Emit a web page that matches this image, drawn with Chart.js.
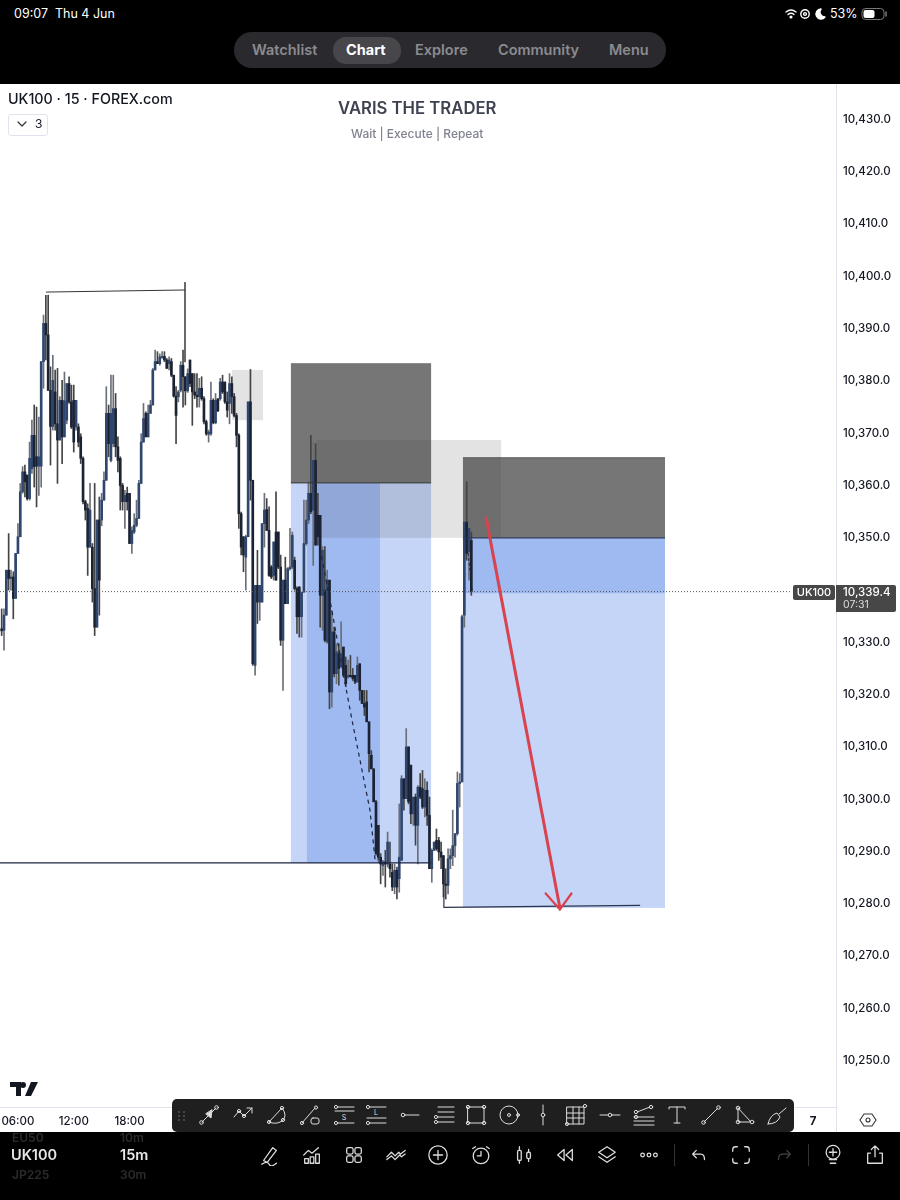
<!DOCTYPE html>
<html>
<head>
<meta charset="utf-8">
<title>UK100 15m</title>
<script src="https://cdn.jsdelivr.net/npm/chart.js@4"></script>
<style>
  html, body { margin: 0; padding: 0; background: #000; }
  body { width: 900px; height: 1200px; position: relative; overflow: hidden; font-family: Inter, "Noto Sans", sans-serif; }
  #chartBox { position: absolute; left: 0; top: 84px; width: 900px; height: 1048px; background: #fff; }
  .t { position: absolute; white-space: nowrap; line-height: 1; }
  .nav { color: #8b8b90; font-size: 14.5px; font-weight: 600; top: 43px; }
  .sep { position: absolute; width: 1px; background: #333; }
  svg.i { position: absolute; fill: none; stroke-linecap: round; stroke-linejoin: round; }
</style>
</head>
<body>
<div id="chartBox"><canvas id="priceChart" width="900" height="1048"></canvas></div>

<div class="t" style="left:14px;top:8px;color:#fff;font-size:12.5px;">09:07&nbsp;&nbsp;Thu 4 Jun</div>
<div class="t" style="left:830px;top:8px;color:#fff;font-size:12.5px;">53%</div>
<svg class="i" style="left:783px;top:7px" width="46" height="14" viewBox="0 0 46 14" stroke="#fff" stroke-width="1.4">
  <path d="M3 5 Q8 1 13 5 M5 7.5 Q8 5 11 7.5"/><circle cx="8" cy="10" r="0.9" fill="#fff"/>
  <circle cx="22" cy="7" r="4.2"/><circle cx="22" cy="7" r="1.4"/>
  <path d="M38 2 A5 5 0 1 0 42 10 A5 5 0 0 1 38 2" fill="#fff"/>
</svg>
<svg class="i" style="left:861px;top:7px" width="28" height="14" viewBox="0 0 28 14">
  <rect x="1" y="1.5" width="22" height="11" rx="3.5" stroke="#777"/><rect x="2.5" y="3" width="11" height="8" rx="2" fill="#fff"/>
  <path d="M25 5v4" stroke="#777" stroke-width="1.5"/>
</svg>

<div style="position:absolute;left:234px;top:32px;width:432px;height:36px;border-radius:18px;background:#2a2a2e;"></div>
<div style="position:absolute;left:333px;top:37px;width:68px;height:27px;border-radius:13px;background:#46464b;"></div>
<div class="t nav" style="left:252px;">Watchlist</div>
<div class="t nav" style="left:346px;color:#fff;font-weight:700;">Chart</div>
<div class="t nav" style="left:415px;">Explore</div>
<div class="t nav" style="left:498px;">Community</div>
<div class="t nav" style="left:609px;">Menu</div>

<div class="t" style="left:8px;top:92px;color:#131722;font-size:14.3px;font-weight:500;">UK100 · 15 · FOREX.com</div>
<div style="position:absolute;left:8px;top:114px;width:38px;height:20px;border:1px solid #e0e3eb;border-radius:3px;background:#fff;"></div>
<svg class="i" style="left:16px;top:120px" width="12" height="9" viewBox="0 0 12 9" stroke="#333" stroke-width="1.2"><path d="M2 2l4 4 4-4"/></svg>
<div class="t" style="left:35px;top:118px;color:#131722;font-size:12px;">3</div>
<div class="t" style="left:338px;top:100px;color:#3e4150;font-size:16.7px;font-weight:600;">VARIS THE TRADER</div>
<div class="t" style="left:351px;top:128px;color:#80838f;font-size:12px;font-weight:500;">Wait | Execute | Repeat</div>

<div class="t" style="left:793px;top:585px;width:42px;height:15px;line-height:15px;text-align:center;background:#474747;border-radius:2px;color:#fff;font-size:11px;font-weight:500;">UK100</div>
<div style="position:absolute;left:836px;top:585px;width:60px;height:27px;background:#474747;border-radius:0 2px 2px 0;"></div>
<div class="t" style="left:843px;top:587px;color:#fff;font-size:11.5px;font-weight:500;">10,339.4</div>
<div class="t" style="left:843px;top:600px;color:#ddd;font-size:10.5px;">07:31</div>

<svg class="i" style="left:10px;top:1082px" width="28" height="14" viewBox="0 0 28 14"><path d="M0 0h11v14h-5v-9h-6zM21 0h7l-7 14h-6zM13 0a3 3 0 1 1 0 6 3 3 0 0 1 0-6" fill="#131722"/></svg>
<div style="position:absolute;left:836px;top:1107px;width:1px;height:25px;background:#e0e3eb;"></div>
<svg class="i" style="left:859px;top:1112px" width="18" height="16" viewBox="0 0 18 16" stroke="#333" stroke-width="1.1"><path d="M5 2h8l4 6-4 6H5L1 8z"/><circle cx="9" cy="8" r="2"/></svg>

<div id="drawTools" style="position:absolute;left:172px;top:1099px;width:622px;height:33px;background:#1f1f1f;border-radius:5px;"></div>
<div id="bottomIcons" style="position:absolute;left:0;top:1132px;width:900px;height:68px;"></div>

<div class="t" style="left:12px;top:1132px;color:#2c2c2c;font-size:12px;font-weight:600;">EU50</div>
<div class="t" style="left:120px;top:1132px;color:#2c2c2c;font-size:12px;font-weight:600;">10m</div>
<div class="t" style="left:11px;top:1148px;color:#e8e8e8;font-size:14.5px;font-weight:600;">UK100</div>
<div class="t" style="left:120px;top:1148px;color:#e8e8e8;font-size:14.5px;font-weight:600;">15m</div>
<div class="t" style="left:12px;top:1169px;color:#2c2c2c;font-size:12px;font-weight:600;">JP225</div>
<div class="t" style="left:120px;top:1169px;color:#2c2c2c;font-size:12px;font-weight:600;">30m</div>

<script>
// prices, 15m candles left to right
const opens = [
  10332.3,10332.0,10334.9,10343.5,10341.9,10342.2,10338.1,10346.7,10349.9,10358.5,
  10362.3,10361.7,10357.2,10362.9,10369.3,10365.2,10363.4,10363.4,10383.4,10390.7,
  10388.5,10377.9,10371.0,10377.6,10371.5,10368.4,10376.0,10369.0,10372.2,10379.2,
  10375.7,10376.0,10370.9,10370.9,10369.0,10364.9,10356.6,10355.3,10347.9,10347.9,
  10340.0,10332.6,10353.1,10353.1,10356.9,10360.7,10373.5,10364.5,10367.7,10374.4,
  10367.1,10364.9,10359.7,10356.6,10358.2,10358.2,10348.6,10350.8,10352.1,10353.4,
  10360.1,10368.0,10373.5,10369.0,10373.5,10375.1,10381.8,10383.4,10383.0,10384.2,
  10384.4,10383.7,10383.0,10383.4,10380.8,10376.8,10376.7,10377.9,10382.7,10380.5,
  10377.8,10383.7,10381.1,10377.6,10377.0,10376.7,10378.3,10376.3,10371.9,10369.5,
  10369.6,10376.0,10371.7,10376.3,10376.3,10379.5,10379.5,10375.7,10375.4,10379.2,
  10376.7,10373.1,10369.3,10354.3,10349.9,10346.0,10349.9,10375.7,10360.7,10325.3,
  10340.6,10337.4,10337.4,10352.4,10355.1,10351.1,10344.1,10342.5,10350.8,10350.8,
  10344.1,10330.1,10341.6,10337.1,10343.8,10344.1,10345.4,10340.0,10340.3,10334.6,
  10339.3,10348.6,10353.1,10358.2,10355.0,10364.5,10354.0,10354.0,10338.7,10339.7,
  10329.8,10341.6,10320.2,10331.7,10323.7,10327.5,10325.0,10328.8,10325.3,10323.1,
  10323.4,10323.4,10323.4,10322.1,10325.6,10320.5,10318.0,10318.3,10314.5,10308.1,
  10305.5,10299.2,10294.7,10288.6,10287.0,10287.7,10287.3,10287.3,10285.7,10282.9,
  10286.1,10284.5,10288.0,10303.6,10299.8,10309.7,10306.2,10296.9,10300.1,10294.7,
  10302.0,10301.7,10298.2,10301.4,10296.6,10286.4,10289.9,10291.8,10291.8,10289.6,
  10288.9,10283.5,10283.2,10288.3,10288.9,10290.8,10293.1,10302.7,10303.0,10334.9,
  10352.7,10347.0,10349.2
];
const closes = [
  10331.9,10334.9,10343.5,10341.9,10342.2,10338.1,10346.7,10349.9,10358.5,10362.3,
  10360.4,10357.2,10364.9,10369.3,10363.3,10363.4,10365.2,10383.4,10390.7,10388.5,
  10377.9,10371.0,10379.8,10371.5,10368.4,10376.0,10369.0,10375.9,10379.2,10375.7,
  10370.9,10368.0,10376.0,10368.0,10364.9,10356.6,10355.0,10347.9,10355.0,10340.0,
  10332.6,10353.1,10341.6,10356.9,10360.7,10373.5,10367.7,10373.5,10374.4,10367.1,
  10364.5,10359.7,10356.6,10357.8,10356.6,10348.6,10351.1,10352.1,10353.4,10360.1,
  10368.0,10372.5,10369.0,10373.5,10375.1,10381.8,10383.4,10383.0,10384.3,10384.4,
  10383.7,10382.1,10383.7,10380.8,10376.8,10373.1,10377.6,10382.7,10380.5,10377.8,
  10381.1,10379.2,10377.6,10377.0,10376.7,10378.3,10376.3,10371.9,10369.6,10369.9,
  10376.0,10371.7,10376.0,10374.0,10379.5,10377.6,10375.7,10374.1,10379.2,10376.7,
  10373.1,10369.3,10354.3,10347.9,10346.4,10349.9,10375.7,10360.7,10325.6,10340.6,
  10337.4,10340.6,10352.4,10355.0,10351.1,10342.5,10342.2,10348.9,10341.6,10344.1,
  10330.1,10341.6,10337.1,10343.8,10344.1,10350.2,10340.0,10334.6,10334.6,10339.3,
  10348.6,10353.1,10358.2,10354.7,10364.5,10348.3,10349.9,10338.7,10347.3,10330.1,
  10341.6,10320.2,10331.7,10323.7,10327.9,10324.7,10327.5,10323.4,10321.8,10323.4,
  10323.1,10322.8,10322.1,10325.3,10320.5,10318.0,10317.3,10314.5,10308.4,10305.5,
  10299.2,10289.3,10288.6,10287.3,10287.7,10287.3,10291.5,10286.4,10282.9,10286.1,
  10282.9,10288.6,10303.6,10299.8,10309.7,10299.2,10296.9,10300.1,10294.7,10302.0,
  10300.1,10298.2,10301.4,10296.6,10286.4,10289.9,10291.5,10290.2,10289.6,10288.6,
  10283.5,10283.2,10288.3,10288.9,10290.8,10293.1,10302.7,10303.0,10334.6,10352.7,
  10346.7,10351.5,10339.4
];
const highs = [
  10336.1,10336.1,10343.5,10350.5,10343.5,10343.2,10346.7,10352.4,10360.1,10363.3,
  10363.6,10361.7,10368.0,10372.2,10375.1,10374.7,10372.8,10383.4,10392.3,10396.1,
  10396.1,10382.4,10384.6,10381.8,10382.1,10376.7,10379.8,10381.4,10379.2,10380.5,
  10378.9,10378.9,10376.0,10371.5,10369.6,10365.2,10356.9,10356.2,10360.1,10348.6,
  10360.1,10353.1,10357.5,10358.2,10362.3,10378.6,10375.1,10380.8,10380.8,10377.3,
  10369.0,10365.2,10360.1,10358.8,10359.4,10358.2,10351.8,10354.3,10356.9,10360.7,
  10369.6,10375.4,10373.8,10375.1,10376.0,10382.1,10385.6,10385.3,10384.9,10385.3,
  10385.3,10384.0,10384.3,10384.0,10380.8,10378.6,10377.9,10383.4,10385.6,10380.5,
  10382.0,10383.7,10381.1,10381.1,10381.1,10380.2,10380.5,10376.7,10372.2,10370.3,
  10379.5,10376.3,10377.3,10376.3,10380.2,10380.8,10379.5,10377.6,10381.1,10380.5,
  10377.3,10373.5,10369.6,10354.6,10349.9,10350.2,10375.7,10381.9,10360.7,10340.6,
  10347.3,10340.6,10352.4,10358.2,10357.2,10355.6,10344.4,10348.9,10358.5,10350.8,
  10346.4,10341.6,10346.0,10344.0,10351.5,10350.8,10346.0,10340.3,10340.3,10339.3,
  10356.9,10356.9,10360.7,10369.3,10368.1,10367.7,10358.2,10354.0,10348.0,10348.0,
  10343.5,10341.6,10335.8,10332.6,10329.4,10329.4,10333.6,10328.8,10326.9,10326.3,
  10327.2,10324.7,10323.4,10326.9,10325.6,10320.5,10320.5,10320.5,10314.5,10309.0,
  10305.5,10299.5,10294.7,10289.3,10288.0,10289.9,10293.4,10291.5,10287.3,10287.3,
  10286.7,10298.8,10304.2,10303.6,10313.2,10309.7,10306.2,10300.1,10300.7,10302.3,
  10304.6,10305.2,10303.6,10303.0,10300.1,10290.2,10291.5,10294.0,10292.4,10291.5,
  10288.9,10286.4,10290.2,10290.2,10297.6,10293.1,10304.9,10304.6,10334.9,10353.4,
  10360.4,10352.4,10350.8
];
const lows = [
  10331.0,10328.2,10334.9,10339.7,10339.7,10334.2,10338.1,10346.7,10349.9,10358.2,
  10357.5,10356.9,10356.9,10362.0,10359.4,10355.6,10357.8,10359.4,10378.3,10383.7,
  10377.9,10363.6,10370.3,10370.3,10360.1,10368.4,10363.9,10369.0,10371.5,10375.4,
  10370.6,10366.1,10370.3,10367.1,10363.9,10356.2,10353.1,10342.5,10347.9,10337.4,
  10331.0,10332.6,10334.9,10352.0,10356.9,10360.7,10365.2,10364.2,10367.1,10365.2,
  10362.3,10355.0,10355.0,10351.5,10355.0,10348.6,10346.7,10350.5,10351.8,10353.4,
  10360.1,10368.0,10369.0,10369.0,10373.5,10375.1,10381.8,10383.0,10382.7,10384.0,
  10383.4,10382.1,10381.8,10380.5,10376.6,10367.7,10375.7,10377.6,10374.7,10375.1,
  10377.5,10378.6,10371.2,10376.3,10374.7,10374.7,10376.0,10371.5,10369.3,10368.0,
  10369.3,10371.5,10371.5,10373.8,10376.0,10377.3,10375.4,10372.8,10371.5,10373.5,
  10372.8,10367.1,10351.5,10346.4,10343.2,10339.7,10349.9,10356.9,10325.3,10323.4,
  10333.3,10333.9,10337.4,10347.9,10351.1,10342.3,10341.9,10341.6,10341.6,10343.8,
  10329.1,10320.5,10337.1,10337.1,10343.5,10343.8,10339.7,10331.4,10330.7,10330.7,
  10339.3,10348.3,10352.4,10354.3,10344.4,10348.3,10348.3,10332.6,10332.0,10329.8,
  10329.5,10317.0,10317.3,10323.1,10321.8,10321.5,10325.0,10323.1,10321.2,10322.8,
  10323.1,10322.4,10321.8,10322.1,10318.6,10318.0,10315.7,10314.5,10304.9,10305.5,
  10299.2,10289.0,10288.0,10283.5,10285.1,10282.9,10286.7,10284.8,10282.2,10281.6,
  10280.6,10281.9,10288.0,10297.6,10299.8,10298.8,10295.0,10294.7,10290.9,10287.3,
  10299.8,10297.9,10296.3,10294.7,10286.4,10283.8,10289.9,10289.9,10288.0,10286.4,
  10281.0,10280.6,10281.6,10286.4,10287.0,10288.6,10292.8,10298.2,10303.0,10332.6,
  10345.4,10341.6,10338.7
];

// 10,340.0 is hidden behind the last price tag in the original
const priceTicks = [10430,10420,10410,10400,10390,10380,10370,10360,10350,10330,10320,10310,10300,10290,10280,10270,10260,10250];
const timeTicks = [7, 31, 55, 349];
const timeLabels = ["06:00", "12:00", "18:00", "7"];
const lastPrice = 10339.4;

// drawing tools from the chart, in bar number / price
const zoneBarsFrom = [99.1, 124.4, 131.3, 135.2, 124.4, 198.4, 198.4, 198.4];
const zoneBarsTo   = [112.4, 184.7, 162.7, 214.8, 184.7, 285.3, 285.3, 285.3];
const zoneTop      = [10381.8, 10360.2, 10360.2, 10368.4, 10383.1, 10365.0, 10349.7, 10349.7];
const zoneBottom   = [10372.2, 10287.5, 10287.5, 10349.7, 10360.2, 10349.7, 10339.1, 10278.9];
const zoneKinds    = ["shade", "blue", "blue", "shade", "dark", "dark", "blue", "blue"];

const rangeBars = [19.07, 78.85];       const rangePrices = [10396.7, 10397.1];
const rangeTickBars = [78.85, 78.85];   const rangeTickPrices = [10398.6, 10383.3];
const levelBars = [-0.72, 184.7];       const levelPrices = [10287.5, 10287.5];
const boxEdgeBars = [124.4, 184.7];     const boxEdgePrices = [10360.2, 10360.2];
const rightEdgeBars = [198.4, 285.3];   const rightEdgePrices = [10349.7, 10349.7];
const rightTopPrices = [10365.0, 10365.0];
const lowBars = [190.2, 190.2, 274.6];  const lowPrices = [10285.2, 10279.0, 10279.4];
const dashBars = [136.9, 141.2, 148.5, 150.7, 154.1, 158.4, 160.6, 162.7];
const dashPrices = [10347.7, 10337.8, 10320.0, 10314.8, 10307.2, 10297.6, 10288.1, 10287.5];
const dash2Bars = [200.6, 202.3];       const dash2Prices = [10346.8, 10339.7];
const arrowBars = [208.3, 240.1];       const arrowPrices = [10353.7, 10278.9];
const headBars = [233.7, 240.1, 245.3]; const headPrices = [10281.8, 10278.6, 10281.8];
const priceLineBars = [-0.72, 339];

const barIndex = opens.map((_, i) => i);
const zoneFill = { shade: "rgba(60,60,60,0.14)", blue: "rgba(89,135,232,0.35)", dark: "rgba(60,60,60,0.7)" };

function pairs(xs, ys) {
  return xs.map((x, i) => ({ x, y: ys[i] }));
}

function lineSet(xs, ys, color, width, dash, order) {
  return {
    type: "line", data: pairs(xs, ys), borderColor: color, borderWidth: width,
    borderDash: dash || [], pointRadius: 0, tension: 0, order: order === undefined ? 1 : order
  };
}

// long/short boxes sit behind the candles
const zonePlugin = {
  id: "zones",
  beforeDatasetsDraw(chart) {
    const { ctx, scales: { x, y } } = chart;
    ctx.save();
    zoneKinds.forEach((kind, i) => {
      ctx.fillStyle = zoneFill[kind];
      const left = x.getPixelForValue(zoneBarsFrom[i]);
      const right = x.getPixelForValue(zoneBarsTo[i]);
      const top = y.getPixelForValue(zoneTop[i]);
      const bottom = y.getPixelForValue(zoneBottom[i]);
      ctx.fillRect(left, top, right - left, bottom - top);
    });
    ctx.restore();
  }
};

const isUp = i => closes[i] >= opens[i];

new Chart(document.getElementById("priceChart"), {
  type: "bar",
  data: {
    datasets: [
      {
        data: barIndex.map(i => ({ x: i, y: [lows[i], highs[i]] })),
        barThickness: 1, grouped: false, order: 4,
        backgroundColor: ctx => isUp(ctx.dataIndex) ? "#6a6f7a" : "#444444"
      },
      {
        data: barIndex.map(i => ({ x: i, y: [opens[i], closes[i]] })),
        barThickness: 2, grouped: false, order: 3,
        backgroundColor: ctx => isUp(ctx.dataIndex) ? "#2f466f" : "#1b2233"
      },
      lineSet(rangeBars, rangePrices, "#333", 1),
      lineSet(rangeTickBars, rangeTickPrices, "#555", 1),
      lineSet(levelBars, levelPrices, "#1c2540", 1.2),
      lineSet(boxEdgeBars, boxEdgePrices, "#333", 1),
      lineSet(rightEdgeBars, rightEdgePrices, "#2d3a55", 1.2),
      lineSet(rightEdgeBars, rightTopPrices, "#555", 1),
      lineSet(lowBars, lowPrices, "#2b3448", 1.2),
      lineSet(dashBars, dashPrices, "#1c2540", 1.2, [4, 4]),
      lineSet(dash2Bars, dash2Prices, "#1c2540", 1, [3, 2]),
      lineSet(priceLineBars, [lastPrice, lastPrice], "#555", 1, [1, 2], 2),
      lineSet(arrowBars, arrowPrices, "#d9434f", 3, [], 0),
      lineSet(headBars, headPrices, "#d9434f", 2.2, [], 0)
    ]
  },
  options: {
    responsive: false,
    animation: false,
    events: [],
    layout: { padding: 0, autoPadding: false },
    plugins: { legend: { display: false }, tooltip: { enabled: false } },
    scales: {
      x: {
        type: "linear", min: -0.72, max: 358.85, offset: false,
        grid: { display: false, drawTicks: false },
        border: { display: true, color: "#e0e3eb" },
        afterFit: s => { s.height = 25; s.paddingLeft = 0; s.paddingRight = 0; },
        afterBuildTicks: s => { s.ticks = timeTicks.map(value => ({ value })); },
        ticks: {
          autoSkip: false, maxRotation: 0, padding: 8,
          color: "#131722",
          font: c => ({ family: "Inter", size: 11.5, weight: c.tick && c.tick.value === 349 ? "700" : "500" }),
          callback: v => timeLabels[timeTicks.indexOf(v)]
        }
      },
      y: {
        position: "right", min: 10240.82, max: 10436.5,
        grid: { display: false, drawTicks: false },
        border: { display: true, color: "#e0e3eb" },
        afterFit: s => { s.width = 64; s.paddingTop = 0; s.paddingBottom = 0; },
        afterBuildTicks: s => { s.ticks = priceTicks.map(value => ({ value })); },
        ticks: {
          autoSkip: false, padding: 7, labelOffset: 1.5, color: "#131722",
          font: { family: "Inter", size: 11.5, weight: "500" },
          callback: v => v.toLocaleString("en-US", { minimumFractionDigits: 1 })
        }
      }
    }
  },
  plugins: [zonePlugin]
});

// toolbar and bottom bar icons
const toolIcons = [
  '<path d="M5 19L19 5"/><circle cx="4.5" cy="19.5" r="1.8"/><circle cx="19.5" cy="4.5" r="1.8"/><path d="M9 11l5 4 1-8z" fill="#ddd"/>',
  '<path d="M3 14l5-6 5 5 8-8M16 5h5v5"/><circle cx="8" cy="8" r="1.6"/><circle cx="13" cy="13" r="1.6"/>',
  '<path d="M4 19L17 5Q23 13 17 18Q11 22 4 19"/><circle cx="4" cy="19" r="1.6"/><circle cx="17" cy="5" r="1.6"/><circle cx="18" cy="17" r="1.6"/>',
  '<path d="M4 20L17 5"/><circle cx="4" cy="20" r="1.6"/><circle cx="18" cy="4.5" r="1.6"/><rect x="13" y="15" width="8" height="6" rx="2"/>',
  '<path d="M6 4h16M3 8h19M6 20h16"/><circle cx="4" cy="4" r="1.6"/><circle cx="4" cy="20" r="1.6"/><text x="12" y="17" font-size="7" fill="#ddd" stroke="none" text-anchor="middle">S</text>',
  '<path d="M6 4h16M3 15h19M6 20h16"/><circle cx="4" cy="4" r="1.6"/><circle cx="4" cy="20" r="1.6"/><text x="12" y="12" font-size="7" fill="#ddd" stroke="none" text-anchor="middle">L</text>',
  '<path d="M7 12h14"/><circle cx="5" cy="12" r="1.8"/>',
  '<path d="M6 4h16M6 9h16M6 14h16M6 19h16"/><circle cx="4" cy="14" r="1.6"/><circle cx="4" cy="19" r="1.6"/>',
  '<rect x="4" y="4" width="16" height="16"/><circle cx="4" cy="4" r="1.7"/><circle cx="20" cy="4" r="1.7"/><circle cx="4" cy="20" r="1.7"/><circle cx="20" cy="20" r="1.7"/>',
  '<circle cx="11" cy="12" r="9"/><circle cx="11" cy="12" r="1.5"/><circle cx="20" cy="12" r="1.5"/>',
  '<path d="M12 2v8M12 14v8"/><circle cx="12" cy="12" r="1.8"/>',
  '<path d="M3 4h17v17H3zM3 10h17M3 15h17M9 4v17M15 4v17"/><circle cx="21" cy="3" r="1.6"/><circle cx="3" cy="21" r="1.6"/>',
  '<path d="M2 12h8M14 12h8"/><circle cx="12" cy="12" r="1.8"/>',
  '<path d="M5 9l13-5M2 14h20M2 18h20M2 22h20"/><circle cx="4" cy="9" r="1.7"/><circle cx="19" cy="4" r="1.7"/><circle cx="4" cy="14" r="1.7"/>',
  '<path d="M4 6V4h16v2M12 4v16M9 20h6"/>',
  '<path d="M5 19L19 5"/><circle cx="4.5" cy="19.5" r="1.8"/><circle cx="19.5" cy="4.5" r="1.8"/>',
  '<path d="M6 5v14h13L6 5"/><circle cx="6" cy="5" r="1.8"/><circle cx="6" cy="19" r="1.8"/><circle cx="20" cy="19" r="1.8"/>',
  '<path d="M3 21Q5 12 12 10L15 14Q12 21 3 21M14 11l7-6"/>'
];
const bottomIcons = [
  '<path d="M5 18L15 4l4 3-10 13zM3 22q6-4 8 0t8-1"/>',
  '<path d="M3 12l5-5 4 3 7-6M4 21v-5h4v5zM10 21v-7h4v7zM16 21V11h4v10z"/>',
  '<rect x="4" y="4" width="7" height="7" rx="2"/><rect x="13" y="4" width="7" height="7" rx="2"/><rect x="4" y="13" width="7" height="7" rx="2"/><rect x="13" y="13" width="7" height="7" rx="2"/>',
  '<path d="M2 14l5-5 4 4 4-4 2 2 5-4M2 17l5-4 4 4 5-5 2 2 4-3"/>',
  '<circle cx="12" cy="12" r="10"/><path d="M12 7v10M7 12h10"/>',
  '<circle cx="12" cy="13" r="8.5"/><path d="M12 8v5H8M3 5l3-2M21 5l-3-2"/>',
  '<rect x="5" y="7" width="4" height="11" rx="1.5"/><rect x="15" y="9" width="4" height="7" rx="1.5"/><path d="M7 3v4M7 18v3M17 6v3M17 16v3"/>',
  '<path d="M11 6l-7 6 7 6zM20 6l-7 6 7 6z"/>',
  '<path d="M12 3l9 6-9 6-9-6zM3 14l9 6 9-6"/>',
  '<circle cx="5" cy="12" r="2"/><circle cx="12" cy="12" r="2"/><circle cx="19" cy="12" r="2"/>',
  '<path d="M9 7l-4 4 4 4M5 11h9q4 0 4 6"/>',
  '<path d="M3 8V6q0-3 3-3h2M16 3h2q3 0 3 3v2M21 16v2q0 3-3 3h-2M8 21H6q-3 0-3-3v-2"/>',
  '<path d="M15 7l4 4-4 4M19 11h-9q-4 0-4 6"/>',
  '<circle cx="12" cy="9" r="7.5"/><path d="M12 5v8M8 9h8M8 17h8M9 21h6"/>',
  '<path d="M12 14V3M8 6l4-4 4 4M7 10H4v11h16V10h-3"/>'
];
const toolCenters = [37, 71, 105, 138, 172, 204, 238, 272, 304, 338, 371, 404, 438, 472, 505, 539, 572, 605];
const bottomCenters = [270, 312, 354, 396, 438, 481, 524, 565, 607, 649, 699, 741, 784, 833, 875];
const dimBottom = [784];

document.getElementById("drawTools").innerHTML =
  '<svg class="i" style="left:5px;top:11px" width="10" height="12" viewBox="0 0 10 12" fill="#555"><circle cx="2" cy="2" r="1" fill="#555"/><circle cx="7" cy="2" r="1" fill="#555"/><circle cx="2" cy="6" r="1" fill="#555"/><circle cx="7" cy="6" r="1" fill="#555"/><circle cx="2" cy="10" r="1" fill="#555"/><circle cx="7" cy="10" r="1" fill="#555"/></svg>' +
  toolIcons.map((p, i) =>
    `<svg class="i" style="left:${toolCenters[i] - 12}px;top:4px" width="24" height="24" viewBox="0 0 24 24" stroke="#ddd" stroke-width="1">${p}</svg>`
  ).join("");

document.getElementById("bottomIcons").innerHTML = bottomIcons.map((p, i) => {
  const col = dimBottom.includes(bottomCenters[i]) ? "#444" : "#ddd";
  return `<svg class="i" style="left:${bottomCenters[i] - 11}px;top:12px" width="22" height="22" viewBox="0 0 24 24" stroke="${col}" stroke-width="1.4">${p}</svg>`;
}).join("") +
  '<div class="sep" style="left:674px;top:12px;height:22px;"></div><div class="sep" style="left:808px;top:12px;height:22px;"></div>';
</script>
</body>
</html>
